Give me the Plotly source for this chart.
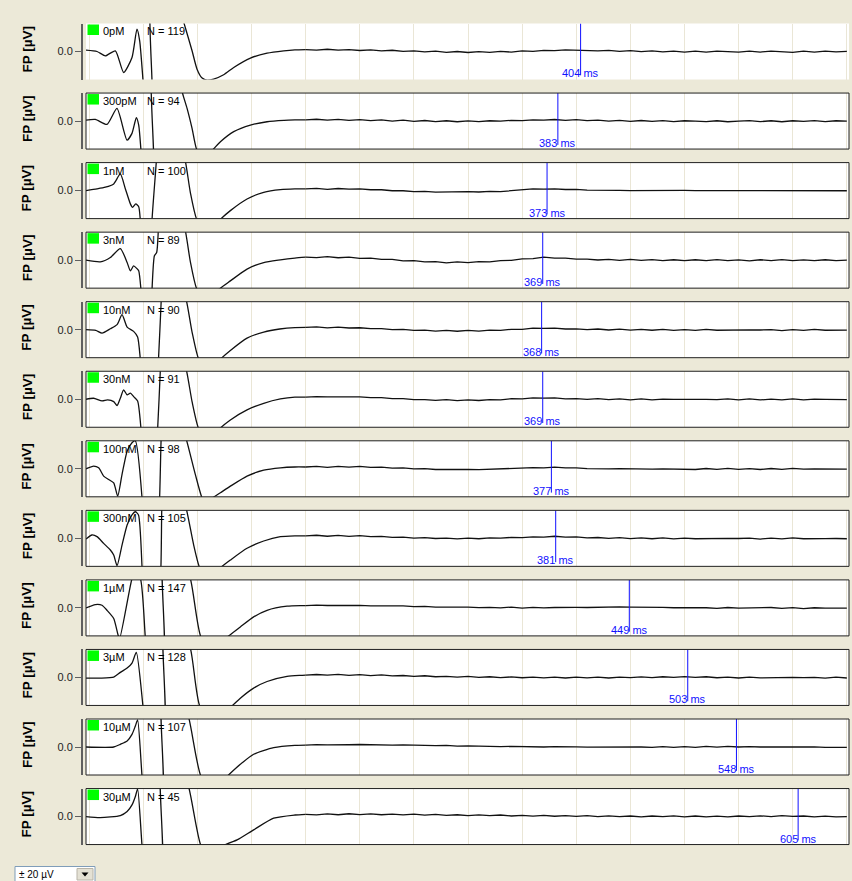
import plotly.graph_objects as go

W, H = 852, 881

# ---------------- data ----------------
LABELS = ["0pM", "300pM", "1nM", "3nM", "10nM", "30nM", "100nM", "300nM", "1µM", "3µM", "10µM", "30µM"]
N_VALUES = [119, 94, 100, 89, 90, 91, 98, 105, 147, 128, 107, 45]
FPD_MS = [404, 383, 373, 369, 368, 369, 377, 381, 449, 503, 548, 605]

# early part of each field potential (ms, µV); values beyond ±20 are off-scale
T_0PM = [-53, -42.8, -35.1, -25.9, -18.2, -10.5, -5.9, -3.4, -0.3, 2, 7.5, 8.5, 30, 37.3, 38.8, 45, 49.6, 54.3, 58.9, 65, 74.2, 83.5, 98.9, 114.3, 129.7, 140]
V_0PM = [1.0, 0.0, -3.1, 0.5, -15, -4.3, 16, 7.6, -21, -45, -45, 45, 45, 21, 17, 0.5, -12.6, -19, -20.5, -19.7, -16.6, -11.4, -4.7, -1.2, 0.5, 1.2]

T_300PM = [-53, -44.4, -33.6, -24.4, -15.1, -10.5, -6.5, -4.3, -2.2, 0, 8.5, 9.5, 30, 35.8, 40.4, 45, 49.6, 56, 63.5, 71.2, 83.5, 98.9, 114.3, 130, 140]
V_300PM = [0.7, 1.2, -2.4, 9, -13.6, -8.8, 2.4, -2.9, -21, -45, -45, 45, 45, 21, 9, -5.2, -21, -26, -21, -14.8, -7.6, -2.9, -0.5, 0.5, 0.8]

T_1NM = [-53, -42.8, -35.1, -27.4, -21.3, -16.6, -12, -10, -7, -4.3, -2.8, 0, 7, 8, 12, 14, 30, 38.8, 43.4, 49.6, 60, 70.5, 80.4, 95.8, 111.2, 126.6, 140]
V_1NM = [0, 1.2, 2.4, 4.8, 11.9, 1.2, -9.5, -12, -9.5, -11.5, -21, -45, -45, -21, 21, 45, 45, 21, -1.2, -21, -30, -21, -14.3, -6, -1.2, 0.7, 1.2]

T_3NM = [-53, -39.8, -30.5, -21.3, -15, -12, -9, -6, -4.3, -2.2, 0, 7, 8, 10.2, 12.3, 13.8, 15, 30, 38.8, 43.4, 49.6, 60, 69.6, 80.4, 95.8, 111.2, 126.6, 140]
V_3NM = [0, -1.2, 1.9, 8.3, -1.7, -7.6, -4.1, -6, -7.6, -21, -45, -45, -21, 3.1, 5.5, 21, 45, 45, 21, -1, -21, -30, -21, -14.8, -6.4, -1.7, 0.2, 1.5]

T_10NM = [-53, -44, -38.2, -30.5, -24.3, -19.7, -15, -9, -5.3, -2.8, 0, 12, 14, 16.5, 18, 30, 39.7, 45, 51.1, 60, 71.2, 80.4, 95.8, 111.2, 126, 140]
V_10NM = [0, -0.5, -2.4, 0.7, 3.6, 10.7, 1.9, -1.2, -5.2, -21, -45, -45, -21, 21, 45, 45, 21, -1.7, -21, -30, -21, -14.8, -6, -1.7, 0.5, 1.5]

T_30NM = [-53, -46, -38.2, -33, -27.4, -24.3, -21.3, -18.2, -15, -12, -9, -5.3, -2.2, 0, 11, 13.2, 15.7, 17, 30, 39.7, 45, 51.1, 60, 70.5, 80.4, 95.8, 111.2, 126.6, 140]
V_30NM = [0, 0.7, -1.2, -0.5, -1.7, -4.5, 0.7, 6.7, 3.1, 4.3, 1.9, -1.2, -21, -45, -45, -21, 21, 45, 45, 21, -1.7, -21, -30, -21, -14.8, -7.6, -2.9, 0.2, 1.5]

T_100NM = [-53, -45.9, -41.3, -36.7, -32.1, -27.4, -23.7, -19.7, -15, -10.5, -7.4, -1.2, 0, 13, 15, 16.4, 18, 30, 39.7, 48, 54.3, 58, 63.5, 71.2, 80.4, 95.8, 111.2, 126.6, 140]
V_100NM = [0, 1.9, 0.7, -5.2, -7.6, -10, -19.5, -4, 12.6, 18.6, 20, -21, -45, -45, -21, 21, 45, 45, 21, -4, -21, -25, -21, -17.1, -12.4, -5.2, -1, 0.7, 1.3]

T_300NM = [-53, -47.5, -42.8, -36.7, -30.5, -27.4, -24.3, -19.7, -15, -10.5, -7.4, -4.5, -1.2, 0, 14, 16.2, 17, 18, 30, 39.7, 46.5, 52, 60, 71.2, 80.4, 95.8, 111.2, 126.6, 140]
V_300NM = [-0.5, 2.4, 1.2, -3.6, -8.3, -11.9, -19.5, -4.8, 9.5, 16.7, 19, 16.7, -21, -45, -45, -21, 21, 45, 45, 21, -4.8, -21, -30, -21, -15.5, -7.1, -1.9, 1.2, 1.8]

T_1UM = [-53, -44.4, -38.2, -33.6, -27.4, -23.5, -22, -10.5, -8, -2.8, 1.8, 5, 18, 18.6, 30, 43.4, 53.3, 65, 77.3, 89.6, 101.9, 114.3, 132.8, 145]
V_1UM = [0, 2.4, 1.9, -1.7, -7.6, -19, -22, 21, 25, 21, -21, -45, -45, 45, 45, 21, -21, -30, -21, -13.6, -6.4, -1.7, 1.2, 1.6]

T_3UM = [-53, -40, -27.4, -21.3, -15, -10.5, -6.5, -0.3, 3, 18.5, 19.2, 30, 43.4, 52.4, 65, 81, 89.6, 101.9, 114.3, 132.8, 145]
V_3UM = [-0.5, -0.5, 0.2, 3.6, 6.7, 10.3, 17.9, -21, -45, -45, 45, 45, 21, -21, -30, -21, -14.8, -7.6, -2.9, 0.7, 1.5]

T_10UM = [-53, -27.4, -21.3, -15, -10.5, -7.4, -5.3, -1.2, 2, 16.9, 17.6, 30, 41.9, 53.3, 65, 77.3, 89.6, 101.9, 120.4, 140]
V_10UM = [0, 0, 1.9, 4.3, 9, 15, 19.3, -21, -45, -45, 45, 45, 21, -21, -30, -21, -12.4, -5.2, -0.5, 1.1]

T_30UM = [-53, -40, -21.3, -15, -10.5, -7.4, -5.3, -1.2, 2, 16.3, 16.9, 30, 41.9, 53.3, 63, 73.6, 86.6, 101.9, 120.4, 140]
V_30UM = [0, -0.7, 0.7, 3.6, 8.3, 14.3, 19.8, -21, -45, -45, 45, 45, 21, -21, -30, -21, -16.7, -9.5, -1.2, 1.1]

# late part, sampled every 10 ms from 150 to 650 ms
LATE_T = list(range(150, 651, 10))
LATE_0PM = [1.4, 1.0, 1.6, 1.0, 1.4, 0.7, 1.2, 0.4, 0.9, 0.1,
            0.5, -0.3, 0.2, -0.6, 0.0, -0.7, -0.1, -0.6, 0.1, -0.4,
            0.4, 0.1, 0.8, 0.6, 1.2, 0.9, 1.1, 0.5, 0.8, 0.1,
            0.6, -0.1, 0.4, -0.3, 0.3, -0.4, 0.2, -0.5, 0.3, -0.3,
            -0.5, 0.2, -0.4, 0.3, -0.4, -0.6, 0.2, -0.4, 0.3, -0.3,
            0.1]
LATE_300PM = [0.9, 1.3, 0.6, 1.2, 0.5, 1.0, 0.3, 0.8, 0.0, 0.6,
              -0.2, 0.4, -0.4, 0.2, -0.5, 0.1, -0.4, 0.2, -0.1, 0.5,
              0.3, 0.8, 0.6, 1.1, 0.5, 1.0, 0.3, 0.6, 0.0, 0.5,
              -0.2, 0.4, -0.3, 0.3, -0.4, 0.2, -0.1, -0.4, 0.2, -0.5,
              -0.1, 0.3, -0.4, 0.2, -0.5, 0.2, -0.3, 0.3, -0.4, 0.2,
              -0.1]
LATE_1NM = [1.2, 1.6, 0.9, 1.5, 1.0, 1.2, 0.6, 0.6, -0.1, -0.1,
            -0.7, -0.6, -1.1, -0.9, -1.1, -0.8, -1.0, -0.5, -0.7, 0.1,
            0.4, 1.2, 1.1, 1.3, 0.8, 0.9, 0.3, 0.4, 0.1, 0.2,
            0.0, 0.1, -0.1, 0.0, -0.1, 0.1, 0.0, 0.0, -0.2, -0.1,
            -0.1, 0.1, 0.0, 0.0, -0.2, -0.1, -0.1, 0.1, 0.0, 0.0,
            -0.1]
LATE_3NM = [2.2, 1.8, 2.5, 1.7, 2.2, 1.3, 1.5, 0.6, 0.6, -0.5,
            -0.4, -1.2, -1.1, -1.9, -1.3, -1.8, -1.0, -1.2, -0.3, -0.1,
            0.9, 1.1, 2.1, 1.4, 1.4, 0.7, 0.8, 0.1, 0.6, -0.1,
            0.5, -0.2, 0.4, -0.3, 0.3, -0.4, 0.3, -0.3, 0.4, -0.4,
            0.2, -0.5, 0.3, -0.3, 0.4, -0.4, 0.2, -0.4, 0.3, -0.3,
            0.0]
LATE_10NM = [1.6, 2.0, 1.3, 1.9, 1.2, 1.4, 0.7, 0.8, 0.1, 0.2,
             -0.5, -0.3, -1.0, -0.5, -1.1, -0.5, -1.0, -0.3, -0.5, 0.3,
             0.3, 1.1, 0.9, 1.1, 0.5, 0.6, 0.0, 0.5, -0.2, 0.4,
             -0.3, 0.3, -0.4, 0.2, -0.5, 0.1, -0.5, 0.2, -0.4, -0.2,
             -0.3, -0.1, -0.2, 0.0, -0.6, 0.1, -0.5, 0.2, -0.4, -0.1,
             -0.3]
LATE_30NM = [1.5, 1.9, 1.7, 1.8, 1.6, 1.7, 1.1, 1.1, 0.4, 0.4,
             -0.2, -0.2, -0.8, -0.3, -1.0, -0.4, -0.9, -0.2, -0.4, 0.4,
             0.3, 1.0, 0.8, 1.0, 0.3, 0.5, -0.1, 0.4, -0.3, 0.3,
             -0.4, 0.2, -0.5, 0.1, -0.1, 0.0, -0.2, -0.1, -0.3, 0.3,
             -0.4, 0.2, -0.5, 0.1, -0.4, 0.2, -0.5, 0.1, -0.1, 0.0,
             -0.2]
LATE_100NM = [1.3, 1.7, 1.0, 1.8, 1.2, 1.7, 1.0, 1.2, 0.5, 0.6,
              0.0, 0.1, -0.5, -0.3, -0.6, -0.4, -0.6, -0.3, -0.4, 0.2,
              0.1, 0.8, 0.6, 1.2, 0.6, 0.7, 0.1, 0.3, 0.0, 0.1,
              -0.1, 0.0, -0.2, 0.0, -0.1, 0.1, -0.5, 0.2, -0.4, 0.3,
              -0.4, 0.1, -0.5, 0.2, -0.4, 0.3, -0.3, -0.1, -0.2, 0.0,
              -0.2]
LATE_300NM = [1.8, 2.2, 1.5, 2.1, 1.4, 1.9, 1.2, 1.4, 0.7, 0.9,
              0.2, 0.5, -0.1, 0.2, -0.4, 0.2, -0.3, 0.3, 0.1, 0.7,
              0.5, 1.1, 0.9, 1.5, 0.9, 1.1, 0.4, 0.6, 0.0, 0.5,
              -0.2, 0.4, -0.3, 0.3, -0.4, 0.2, -0.3, -0.1, -0.2, 0.0,
              -0.1, 0.1, -0.5, 0.2, -0.4, 0.3, -0.3, 0.0, -0.2, -0.1,
              -0.3]
LATE_1UM = [1.6, 2.0, 1.7, 1.9, 1.7, 1.8, 1.5, 1.6, 1.3, 1.4,
            0.9, 1.1, 0.6, 0.8, 0.5, 0.6, 0.2, 0.4, 0.0, 0.6,
            -0.1, 0.4, 0.0, 0.3, 0.1, 0.4, 0.3, 0.6, 0.4, 0.7,
            0.5, 0.6, 0.3, 0.4, 0.1, 0.2, -0.1, 0.1, -0.3, 0.3,
            -0.2, -0.1, -0.3, 0.3, -0.4, 0.2, -0.5, 0.1, -0.1, 0.0,
            -0.2]
LATE_3UM = [1.7, 2.1, 1.6, 2.2, 1.5, 2.0, 1.3, 1.8, 1.1, 1.4,
            0.7, 1.2, 0.5, 0.8, 0.2, 0.7, 0.0, 0.5, -0.1, 0.4,
            -0.2, 0.3, -0.3, 0.3, -0.4, 0.2, -0.3, 0.3, -0.4, 0.2,
            -0.1, 0.4, -0.1, 0.5, 0.0, 0.6, 0.0, 0.5, -0.2, 0.3,
            -0.4, 0.2, -0.3, -0.1, -0.2, 0.0, -0.1, 0.1, -0.5, 0.2,
            -0.4]
LATE_10UM = [1.3, 1.7, 1.5, 1.8, 1.6, 1.8, 1.5, 1.7, 1.4, 1.5,
             1.2, 1.3, 1.0, 1.1, 0.6, 0.8, 0.5, 0.6, 0.3, 0.4,
             0.1, 0.3, 0.0, 0.2, -0.1, 0.1, -0.1, 0.0, -0.2, 0.1,
             -0.1, 0.0, -0.2, 0.3, -0.3, 0.3, -0.2, 0.4, -0.1, 0.5,
             0.0, 0.3, 0.0, 0.1, -0.2, 0.0, -0.1, 0.1, -0.2, 0.0,
             -0.2]
LATE_30UM = [1.6, 1.2, 1.9, 1.3, 2.0, 1.4, 1.9, 1.3, 1.8, 1.2,
             1.7, 1.0, 1.5, 0.8, 1.3, 0.7, 1.2, 0.6, 1.1, 0.4,
             0.9, 0.3, 0.8, 0.2, 0.7, 0.1, 0.6, 0.0, 0.5, -0.1,
             0.4, -0.2, 0.4, -0.1, 0.5, -0.2, 0.4, -0.3, 0.3, -0.2,
             0.4, -0.1, 0.5, 0.0, 0.6, 0.1, 0.4, -0.2, 0.3, -0.3,
             0.0]

EARLY_T = [T_0PM, T_300PM, T_1NM, T_3NM, T_10NM, T_30NM, T_100NM, T_300NM, T_1UM, T_3UM, T_10UM, T_30UM]
EARLY_V = [V_0PM, V_300PM, V_1NM, V_3NM, V_10NM, V_30NM, V_100NM, V_300NM, V_1UM, V_3UM, V_10UM, V_30UM]
LATE_V = [LATE_0PM, LATE_300PM, LATE_1NM, LATE_3NM, LATE_10NM, LATE_30NM, LATE_100NM, LATE_300NM,
          LATE_1UM, LATE_3UM, LATE_10UM, LATE_30UM]

X_RANGE = [-53, 652]
Y_RANGE = [-20, 20]

# ---------------- layout geometry (pixels) ----------------
PLOT_L, PLOT_R = 86, 849
PANEL_TOP0, PANEL_STEP, PANEL_H = 23.5, 69.55, 56
YAXIS_X = 82
FONT = "Liberation Sans"
BEIGE = "#ECE9D8"


def px_x(v):
    return v / W


def px_y(v):
    return 1 - v / H


fig = go.Figure()
layout = {}
shapes = []
annotations = []

for i in range(len(LABELS)):
    k = i + 1
    xn = "x" if k == 1 else f"x{k}"
    yn = "y" if k == 1 else f"y{k}"
    xkey = "xaxis" if k == 1 else f"xaxis{k}"
    ykey = "yaxis" if k == 1 else f"yaxis{k}"
    top = PANEL_TOP0 + PANEL_STEP * i
    bot = top + PANEL_H

    layout[xkey] = dict(
        domain=[px_x(PLOT_L), px_x(PLOT_R)], range=X_RANGE, anchor=yn,
        showticklabels=False, ticks="", showgrid=True, gridcolor="#EAE6D6", gridwidth=1,
        tick0=0, dtick=50, zeroline=False, showline=False, fixedrange=True,
    )
    layout[ykey] = dict(
        domain=[px_y(bot), px_y(top)], range=Y_RANGE, anchor="free", position=px_x(YAXIS_X),
        showline=True, linecolor="#5f5f5f", linewidth=2, ticks="outside", ticklen=6,
        tickwidth=1, tickcolor="#5f5f5f", tickvals=[0], ticktext=["0.0"],
        tickfont=dict(family=FONT, size=11, color="#222222"),
        showgrid=False, zeroline=False, fixedrange=True,
    )

    # fast deflections (smoothed) ...
    fig.add_trace(go.Scatter(
        x=EARLY_T[i] + LATE_T[:1], y=EARLY_V[i] + LATE_V[i][:1], mode="lines",
        line=dict(color="#111111", width=1.3, shape="spline", smoothing=0.6),
        xaxis=xn, yaxis=yn, hoverinfo="skip", showlegend=False,
    ))
    # ... and the noisy plateau
    fig.add_trace(go.Scatter(
        x=LATE_T, y=LATE_V[i], mode="lines",
        line=dict(color="#111111", width=1.3),
        xaxis=xn, yaxis=yn, hoverinfo="skip", showlegend=False,
    ))
    fig.add_trace(go.Scatter(
        x=[FPD_MS[i], FPD_MS[i]], y=[20, -17], mode="lines",
        line=dict(color="#1010ff", width=1), xaxis=xn, yaxis=yn,
        hoverinfo="skip", showlegend=False,
    ))

    if k > 1:
        shapes.append(dict(type="rect", xref=f"{xn} domain", yref=f"{yn} domain",
                           x0=0, x1=1, y0=0, y1=1, line=dict(color="#202020", width=1),
                           layer="above"))
    shapes.append(dict(type="rect", xref="paper", yref="paper",
                       x0=px_x(87.5), x1=px_x(99), y0=px_y(top + 11.5), y1=px_y(top + 1),
                       fillcolor="#00ff00", line=dict(width=0), layer="above"))

    annotations.append(dict(xref="paper", yref="paper", x=px_x(100.5), y=px_y(top),
                            xanchor="left", yanchor="top", text=LABELS[i], showarrow=False,
                            font=dict(family=FONT, size=11, color="#000000")))
    annotations.append(dict(xref="paper", yref="paper", x=px_x(145), y=px_y(top),
                            xanchor="left", yanchor="top", text=f"N = {N_VALUES[i]}",
                            showarrow=False, font=dict(family=FONT, size=11, color="#000000")))
    annotations.append(dict(xref=xn, yref=f"{yn} domain", x=FPD_MS[i], y=0,
                            xanchor="center", yanchor="bottom", text=f"{FPD_MS[i]} ms",
                            showarrow=False, yshift=-2,
                            font=dict(family=FONT, size=11, color="#1010ff")))
    annotations.append(dict(xref="paper", yref="paper", x=px_x(27), y=px_y(top + PANEL_H / 2 - 2),
                            xanchor="center", yanchor="middle", text="<b>FP [µV]</b>",
                            textangle=-90, showarrow=False,
                            font=dict(family=FONT, size=13.5, color="#000000")))

# range selector box at the bottom
shapes.append(dict(type="rect", xref="paper", yref="paper", x0=px_x(15), x1=px_x(95),
                   y0=px_y(885), y1=px_y(866.5), fillcolor="#ffffff",
                   line=dict(color="#7f9db9", width=1)))
shapes.append(dict(type="rect", xref="paper", yref="paper", x0=px_x(77), x1=px_x(93),
                   y0=px_y(880), y1=px_y(868.5), fillcolor="#e4e1d4",
                   line=dict(color="#b8b4a8", width=1)))
shapes.append(dict(type="path", xref="paper", yref="paper",
                   path=(f"M {px_x(81.5)} {px_y(872.5)} L {px_x(88.5)} {px_y(872.5)} "
                         f"L {px_x(85)} {px_y(876.5)} Z"),
                   fillcolor="#000000", line=dict(width=0)))
annotations.append(dict(xref="paper", yref="paper", x=px_x(17), y=px_y(874),
                        xanchor="left", yanchor="middle", text="± 20 µV", showarrow=False,
                        font=dict(family=FONT, size=10, color="#000000")))

fig.update_layout(
    width=W, height=H, autosize=False,
    margin=dict(l=0, r=0, t=0, b=0, pad=0),
    paper_bgcolor=BEIGE, plot_bgcolor="#ffffff",
    shapes=shapes, annotations=annotations, hovermode=False, showlegend=False,
    **layout,
)

fig.write_html("out.html", include_plotlyjs=True, config={"displayModeBar": False})
